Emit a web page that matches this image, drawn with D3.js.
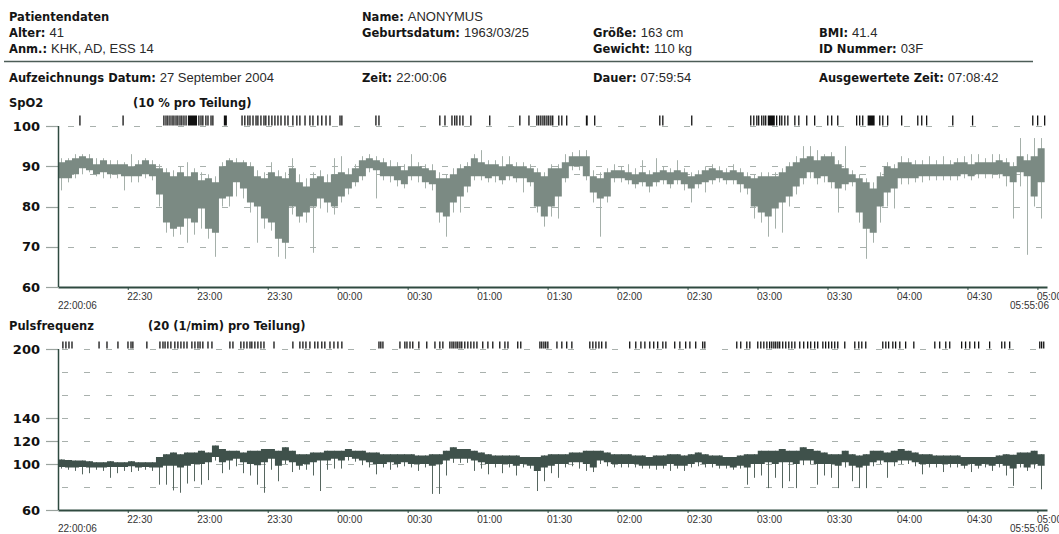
<!DOCTYPE html>
<html>
<head>
<meta charset="utf-8">
<title>Patientendaten - SpO2 und Pulsfrequenz</title>
<style>
  body { margin: 0; background: #fff; }
  svg { display: block; }
  .lbl { font-family: "DejaVu Sans", Verdana, sans-serif; font-weight: bold; font-size: 11.5px; fill: #151515; }
  .val { font-family: "Liberation Sans", Arial, sans-serif; font-weight: normal; font-size: 13px; fill: #2a2a2a; }
  .ylab { font-family: "DejaVu Sans", Verdana, sans-serif; font-weight: bold; font-size: 13px; fill: #111; }
  .tick text { font-family: "Liberation Sans", Arial, sans-serif; font-size: 10px; fill: #333; }
  .edge { font-family: "Liberation Sans", Arial, sans-serif; font-size: 10px; fill: #333; }
</style>
</head>
<body>
<div id="chart"></div>
<script src="https://cdn.jsdelivr.net/npm/d3@7"></script>
<script>
// header fields: [column, row, label, value]
const headerFields = [
  [0, 0, "Patientendaten", ""],
  [0, 1, "Alter:", "41"],
  [0, 2, "Anm.:", "KHK, AD, ESS 14"],
  [1, 0, "Name:", "ANONYMUS"],
  [1, 1, "Geburtsdatum:", "1963/03/25"],
  [2, 1, "Größe:", "163 cm"],
  [2, 2, "Gewicht:", "110 kg"],
  [3, 1, "BMI:", "41.4"],
  [3, 2, "ID Nummer:", "03F"]
];
const recordFields = [
  ["Aufzeichnungs Datum:", "27 September 2004"],
  ["Zeit:", "22:00:06"],
  ["Dauer:", "07:59:54"],
  ["Ausgewertete Zeit:", "07:08:42"]
];

// recording start and time axis (minutes after start)
const startTime = new Date(2004, 8, 27, 22, 0, 6);
const axisMinutes = 424;
const binMinutes = 3;
const endLabel = "05:55:06";

// SpO2 (%) per 3-minute bin: dense band top/bottom and spike extremes
const spo2Hi = [
  91, 91.5, 92, 92.5, 92, 90.5, 91.5, 90.5, 90.5, 90.5,
  90, 90.5, 91.5, 90.5, 89.5, 88.5, 87.5, 88.5, 87.5, 88.5,
  86.5, 87, 86, 90, 91.5, 91, 91, 90, 87.5, 87,
  88.5, 87.5, 87, 89.5, 86, 85, 87, 87.5, 86, 88,
  88.5, 88, 89.5, 91.5, 92, 91.5, 91, 90, 90, 89,
  90, 90, 89.5, 89, 87, 87, 88, 89.5, 90, 92,
  91, 90.5, 90.5, 90, 90.5, 90, 90, 89.5, 88.5, 87.5,
  89.5, 89.5, 91, 92.5, 92.5, 92.5, 87.5, 87, 88.5, 89,
  89, 88.5, 88, 88.5, 88, 88.5, 89, 88.5, 89, 88.5,
  87.5, 88, 89, 89.5, 89, 88.5, 89, 88.5, 87.5, 87,
  87.5, 87.5, 87.5, 88.5, 90, 91, 92, 92.5, 91.5, 92.5,
  92.5, 90.5, 89.5, 88, 87, 86, 84.5, 87.5, 90, 89.5,
  91, 91, 90.5, 90.5, 90.5, 90.5, 90.5, 90.5, 91, 91,
  90.5, 91, 91, 91, 91.5, 91, 90, 92.5, 91.5, 92.5,
  94.5
];
const spo2Lo = [
  87, 87, 88, 89.5, 89, 88, 88.5, 88, 88, 87.5,
  87.5, 87.5, 88, 87.5, 83, 76, 74.5, 75, 77, 76,
  79.5, 74.5, 73.5, 82, 82.5, 86, 84.5, 81, 80, 77,
  76, 72, 71, 80, 77.5, 78.5, 80, 82, 81, 80,
  82.5, 84.5, 86, 87.5, 89.5, 89, 87.5, 87.5, 86.5, 85.5,
  87.5, 87.5, 86, 85.5, 78.5, 77.5, 81, 82.5, 85, 87.5,
  87.5, 87, 87.5, 86.5, 87.5, 87, 87, 86, 80, 77.5,
  80, 82.5, 87, 90, 90, 87.5, 83.5, 82, 82.5, 87,
  87, 86.5, 85.5, 86, 85, 86, 86.5, 85.5, 86.5, 85.5,
  84.5, 85.5, 86, 86.5, 87, 86.5, 86.5, 85.5, 84.5, 80,
  78.5, 77.5, 79.5, 81, 82.5, 85, 87, 88.5, 87, 87.5,
  86, 84.5, 85.5, 86, 78.5, 74.5, 73.5, 80, 83.5, 84.5,
  87, 87, 87, 87.5, 87.5, 87.5, 87.5, 87.5, 87.5, 88,
  87.5, 88, 88, 88, 88, 87.5, 86, 88.5, 87.5, 82.5,
  86
];
const spo2Max = [
  92, 92, 93, 93, 93, 92, 92, 91.5, 91.5, 91,
  93, 91.5, 92, 91.5, 90.5, 89.5, 89, 90, 91, 89.5,
  88.5, 88, 87.5, 91, 92, 92, 91.5, 91, 89, 88.5,
  91, 89, 88.5, 92, 88, 87, 88.5, 89, 88, 92,
  92.5, 89.5, 90.5, 92.5, 93, 92.5, 92, 91.5, 91, 90.5,
  93, 91, 90.5, 90.5, 88.5, 88, 89.5, 90.5, 91, 93,
  94, 91.5, 91.5, 92.5, 92.5, 91, 91, 90.5, 89.5, 88.5,
  90.5, 90.5, 93, 93.5, 94, 94, 89, 88.5, 89.5, 90.5,
  90, 90.5, 89.5, 91.5, 89, 92, 90, 89.5, 91.5, 89.5,
  88.5, 89, 90, 90.5, 90, 89.5, 90.5, 89.5, 88.5, 88,
  88.5, 88.5, 88.5, 89.5, 91, 92.5, 95, 95, 94, 93,
  93.5, 91.5, 95, 89, 88, 87, 86, 88.5, 91, 90.5,
  92.5, 92, 91.5, 91.5, 92.5, 91.5, 92.5, 91.5, 92, 92.5,
  93, 93, 92, 93, 93, 92, 91, 97, 93, 97,
  97
];
const spo2Min = [
  84, 86, 87, 88, 88.5, 87.5, 87, 87, 87, 84,
  86, 86, 87, 86.5, 80, 73.5, 72.5, 73, 71, 73,
  74.5, 72, 67.5, 80, 80, 82.5, 82, 78.5, 71, 74.5,
  74, 67.5, 67, 78, 76, 76, 68.5, 79.5, 78.5, 78,
  81, 83, 85, 86.5, 88.5, 82, 86.5, 86, 85, 84.5,
  86.5, 86, 84.5, 84, 76, 72.5, 78.5, 78.5, 83.5, 86.5,
  86.5, 86, 86, 85.5, 86.5, 86, 83.5, 85, 78.5, 75,
  77.5, 77, 86, 89, 89, 86.5, 81, 72.5, 81, 86,
  86, 85.5, 84.5, 85, 83.5, 85, 85.5, 84.5, 85.5, 84,
  81, 84.5, 83.5, 85.5, 86, 85.5, 85.5, 83.5, 83, 77,
  76, 72.5, 74.5, 73.5, 80, 83, 85.5, 87, 85.5, 86,
  84.5, 78.5, 84, 85, 76, 67, 71, 76, 80, 79.5,
  85.5, 85.5, 86, 86, 86.5, 86.5, 86.5, 86.5, 86.5, 87,
  86.5, 87, 87, 87, 87, 85, 77, 85, 68, 80,
  77
];

// Pulse rate (1/min) per 3-minute bin
const pulseHi = [
  104, 103.5, 103, 103, 102.5, 101.5, 101.5, 102.5, 101.5, 101.5,
  102.5, 101.5, 101.5, 101.5, 106, 108.5, 110, 108.5, 110, 110,
  111.5, 110, 116, 113, 111.5, 111.5, 110, 111.5, 111.5, 113,
  113, 111.5, 114.5, 111.5, 108.5, 108.5, 110, 110, 111.5, 111.5,
  111.5, 113, 111.5, 111.5, 110, 110, 108.5, 108.5, 108.5, 108.5,
  108.5, 107.5, 107.5, 108.5, 108.5, 111.5, 114.5, 113, 113, 111.5,
  110, 108.5, 107.5, 107.5, 107.5, 107.5, 106, 106, 106, 107.5,
  108.5, 108.5, 108.5, 110, 110, 111.5, 111.5, 111.5, 110, 108.5,
  108.5, 108.5, 107.5, 107.5, 106, 107.5, 107.5, 108.5, 108.5, 107.5,
  108.5, 110, 108.5, 107.5, 107.5, 106, 106, 107.5, 108.5, 108.5,
  111.5, 111.5, 111.5, 113, 111.5, 111.5, 114.5, 113, 111.5, 110,
  108.5, 108.5, 111.5, 108.5, 107.5, 108.5, 111.5, 111.5, 110, 111.5,
  113, 111.5, 110, 108.5, 108.5, 107.5, 107.5, 107.5, 107.5, 106,
  106, 106, 106, 106, 107.5, 108.5, 108, 110, 110, 111.5,
  108.5
];
const pulseLo = [
  97.5, 97, 97, 97.5, 97, 97, 97, 97.5, 97.5, 97.5,
  98, 97, 97.5, 97, 97, 98.5, 98.5, 97, 98.5, 100,
  100, 101.5, 106, 101.5, 103, 104.5, 101.5, 100, 99, 101.5,
  104.5, 98.5, 103, 101.5, 98.5, 100, 101.5, 103, 103, 104.5,
  103, 106, 104.5, 103, 101.5, 100, 100, 101.5, 100, 101.5,
  100, 100, 100, 98.5, 100, 103, 104.5, 104.5, 104.5, 103,
  101.5, 100, 100, 100, 100, 98.5, 100, 98.5, 94, 97,
  98.5, 100, 100, 101.5, 101.5, 100, 97, 103, 101.5, 100,
  100, 100, 100, 98.5, 98.5, 98.5, 98.5, 100, 98.5, 98.5,
  100, 101.5, 100, 100, 98.5, 98.5, 97, 98.5, 97, 100,
  100, 101.5, 100, 101.5, 101.5, 100, 103, 103, 100, 100,
  100, 98.5, 101.5, 98.5, 97, 98.5, 101.5, 103, 101.5, 101.5,
  103, 103, 101.5, 100, 100, 100, 100, 100, 100, 98.5,
  100, 98.5, 100, 98.5, 100, 98.5, 96, 100, 97, 100,
  98.5
];
const pulseMin = [
  96, 95, 94, 91, 92, 95, 94, 88, 92, 94,
  93, 94, 95, 94, 82, 82, 77, 75, 83, 85,
  82, 86, 103, 92, 95, 98, 92, 90, 82, 75,
  95, 85, 100, 93, 95, 95, 90, 76.5, 95, 96,
  96, 103, 102, 99, 97, 91, 97, 95, 97, 98,
  97, 94, 97, 74, 74, 90, 101, 101, 101, 94,
  96, 91, 97, 92, 97, 90, 97, 96, 76.5, 85,
  92, 88, 97, 98, 96, 94, 93, 100, 98, 97,
  97, 97, 97, 96, 96, 95, 96, 94, 96, 94,
  97, 98, 97, 97, 96, 96, 95, 96, 82, 88,
  90, 79, 88, 79, 85, 79, 99, 100, 82, 90,
  88, 79, 97, 85, 79, 79, 98, 100, 88, 98,
  100, 100, 98, 91, 97, 97, 93, 97, 97, 96,
  93, 96, 97, 94, 97, 90, 81, 97, 94, 96,
  78
];

// event markers (minutes after start)
const spo2Events = [
  9.4, 27.9, 45.4, 46.3, 47.1, 48.0, 48.9, 49.7, 50.6, 51.4, 52.3, 53.1, 54.0, 54.9,
  60.4, 61.3, 62.1, 63.4, 64.3, 65.6, 66.4,
  78.9, 80.1, 81.4, 82.3, 83.6, 84.9, 85.7, 87.0, 88.3, 89.1, 90.4, 91.7, 93.0, 94.3,
  95.6, 97.3, 98.6, 100.7, 102.4, 103.7, 105.9, 108.0, 109.3, 111.4, 113.1, 114.9, 116.6,
  120.9, 121.7, 136.3, 137.6, 163.7, 165.9, 168.9, 170.1, 171.0, 172.3, 173.6, 177.0,
  185.1, 198.0, 201.9, 205.3, 206.1, 207.0, 207.9, 208.7, 209.6, 210.4, 211.3, 212.1,
  214.7, 216.0, 218.1, 230.1, 258.0, 259.3, 271.7,
  297.0, 298.3, 299.6, 300.4, 301.7, 302.6, 303.4, 308.1, 309.4, 310.3, 311.6, 312.9,
  315.9, 317.6, 321.0, 324.4, 330.0, 331.7, 334.3, 342.4, 343.7, 345.0, 352.3, 353.6,
  355.7, 361.7, 368.6, 370.3, 372.4, 383.6, 392.1, 417.9, 420.0, 423.0
];
const spo2EventBlocks = [[55.7, 59.6], [71.1, 72.4], [226.3, 227.1], [304.3, 307.3], [347.1, 350.1]];
const pulseEvents = [
  2.1, 3.4, 4.7, 6.0, 17.6, 21.0, 25.7, 30.0, 31.3, 32.1, 38.1,
  43.7, 45.0, 45.9, 47.1, 48.4, 50.1, 51.4, 52.7, 54.0, 55.3, 57.4, 58.7, 60.0, 60.9, 62.1,
  64.3, 66.0, 73.7, 75.0, 78.4, 79.7, 81.0, 82.3, 83.1, 84.4, 85.7, 87.0, 88.3, 92.6,
  100.7, 103.7, 105.0, 106.3, 108.0, 110.1, 111.4, 113.1, 114.4, 116.6, 118.3, 120.0, 121.7,
  137.6, 138.4, 139.3, 146.6, 148.7, 149.6, 150.9, 152.1, 154.7, 158.1, 161.6, 163.7, 165.0,
  168.0, 168.9, 169.7, 170.6, 171.4, 172.3, 173.1, 174.4, 175.7, 177.0, 178.3, 179.6,
  182.1, 184.3, 186.4, 189.4, 191.6, 192.9, 197.1, 198.4, 206.6, 207.4, 208.3, 209.1, 210.0,
  213.9, 216.0, 218.1, 220.3, 228.0, 229.3, 230.6, 231.9, 233.1, 234.9,
  245.1, 247.7, 249.9, 251.6, 253.7, 255.4, 257.1, 259.3, 260.6, 264.4, 266.6, 269.1,
  270.9, 273.4, 276.4, 277.3, 291.0, 292.7, 295.3, 296.6,
  300.0, 301.3, 302.6, 303.9, 305.1, 306.0, 306.9, 307.7, 308.6, 309.4, 310.7, 312.0,
  313.3, 314.6, 315.9, 318.0, 319.7, 321.4, 322.7, 324.4, 325.7, 327.9, 329.1, 330.4,
  331.7, 333.0, 334.3, 337.3, 341.6, 343.3, 344.6, 346.3, 353.6, 354.9, 356.1, 357.9,
  359.1, 360.9, 363.4, 366.9, 375.9, 378.0, 380.6, 382.3, 387.4, 389.1, 390.9, 393.0,
  394.7, 399.4, 404.6, 405.9, 408.0, 420.9, 421.7, 422.6
];

const width = 1059, height = 534;
const svg = d3.select("#chart").append("svg")
  .attr("width", width).attr("height", height);

const tm = m => new Date(+startTime + m * 60000);
const x = d3.scaleTime().domain([startTime, tm(axisMinutes)]).range([58, 1047]);

// ----- header -----
const colX = [9, 362, 593, 819];
const rowY = [21, 37, 53];
headerFields.forEach(([c, r, label, value]) => {
  const t = svg.append("text").attr("x", colX[c]).attr("y", rowY[r]);
  t.append("tspan").attr("class", "lbl").text(label);
  if (value) t.append("tspan").attr("class", "val").attr("dx", 4).text(value);
});
svg.append("line")
  .attr("x1", 4).attr("x2", 1033).attr("y1", 61.5).attr("y2", 61.5)
  .attr("stroke", "#4d5d57").attr("stroke-width", 1.5);
recordFields.forEach(([label, value], i) => {
  const t = svg.append("text").attr("x", colX[i]).attr("y", 82);
  t.append("tspan").attr("class", "lbl").text(label);
  t.append("tspan").attr("class", "val").attr("dx", 4).text(value);
});

function drawPanel(p) {
  const y = d3.scaleLinear().domain(p.domain).range([p.bottom, p.top]);
  const g = svg.append("g");

  g.append("text").attr("class", "lbl").attr("x", 9).attr("y", p.titleY).text(p.title);
  g.append("text").attr("class", "lbl").attr("x", p.subX).attr("y", p.titleY).text(p.subtitle);

  // dashed grid
  g.selectAll(".grid").data(p.grid).join("line")
    .attr("x1", p.gridStart).attr("x2", 1047)
    .attr("y1", d => Math.round(y(d)) + 0.5).attr("y2", d => Math.round(y(d)) + 0.5)
    .attr("stroke", "#a9b1ad").attr("stroke-width", 1.2)
    .attr("stroke-dasharray", "6 16");

  // labelled y ticks
  g.selectAll(".yt").data(p.labels).join("line")
    .attr("x1", 46).attr("x2", 58)
    .attr("y1", d => Math.round(y(d)) + 0.5).attr("y2", d => Math.round(y(d)) + 0.5)
    .attr("stroke", "#9aa39e").attr("stroke-width", 1.2);
  g.selectAll(".yl").data(p.labels).join("text")
    .attr("class", "ylab").attr("text-anchor", "end")
    .attr("x", 40).attr("y", d => y(d)).attr("dy", "0.36em")
    .text(d => d);

  // trace: dense band per bin plus lighter spikes
  const bins = p.hi.map((h, i) => ({
    t0: tm(i * binMinutes), t1: tm((i + 1) * binMinutes), tc: tm(i * binMinutes + binMinutes / 2),
    hi: h, lo: p.lo[i], mn: p.min[i], mx: p.max ? p.max[i] : h
  }));
  g.selectAll(".spk").data(bins).join("line")
    .attr("x1", d => Math.round(x(d.tc)) + 0.5).attr("x2", d => Math.round(x(d.tc)) + 0.5)
    .attr("y1", d => y(d.mx)).attr("y2", d => y(d.mn))
    .attr("stroke", p.spike).attr("stroke-width", 1);
  const area = d3.area()
    .x(d => x(d.t))
    .y0(d => y(d.lo)).y1(d => y(d.hi))
    .curve(d3.curveStepAfter);
  const steps = bins.map(b => ({ t: b.t0, hi: b.hi, lo: b.lo }));
  const last = bins[bins.length - 1];
  steps.push({ t: last.t1, hi: last.hi, lo: last.lo });
  g.append("path").attr("d", area(steps)).attr("fill", p.band);

  // events on top
  const base = Math.round(y(p.domain[1])) - 0.5;
  g.selectAll(".ev").data(p.events).join("line")
    .attr("x1", d => x(tm(d))).attr("x2", d => x(tm(d)))
    .attr("y1", base).attr("y2", base - p.evH)
    .attr("stroke", "#111").attr("stroke-width", 1.3);
  g.selectAll(".evb").data(p.blocks).join("rect")
    .attr("x", d => x(tm(d[0]))).attr("width", d => x(tm(d[1])) - x(tm(d[0])))
    .attr("y", base - p.evH).attr("height", p.evH)
    .attr("fill", "#111");

  // axes
  g.append("line").attr("x1", 58.5).attr("x2", 58.5).attr("y1", p.top).attr("y2", p.bottom)
    .attr("stroke", "#2f4a40").attr("stroke-width", 1.5);
  const ax = g.append("g").attr("transform", `translate(0,${p.bottom})`)
    .call(d3.axisBottom(x).ticks(d3.timeMinute.every(30))
      .tickFormat(d3.timeFormat("%H:%M")).tickSize(3).tickSizeOuter(0));
  ax.select(".domain").attr("stroke", "#2f4a40").attr("stroke-width", 2);
  ax.selectAll(".tick line").attr("stroke", "#2f4a40");
  ax.selectAll(".tick text").attr("text-anchor", "start").attr("x", -1).attr("y", 13).attr("dy", 0);
  g.append("text").attr("class", "edge").attr("x", 58).attr("y", p.bottom + 22).text("22:00:06");
  g.append("text").attr("class", "edge").attr("text-anchor", "end")
    .attr("x", 1049).attr("y", p.bottom + 22).text(endLabel);
}

drawPanel({
  title: "SpO2", subtitle: "(10 % pro Teilung)", titleY: 107, subX: 133,
  domain: [60, 100], top: 126, bottom: 287,
  grid: [100, 90, 88, 80, 70], gridStart: 68, labels: [100, 90, 80, 70, 60],
  hi: spo2Hi, lo: spo2Lo, min: spo2Min, max: spo2Max,
  band: "#7b8a83", spike: "#a5b0aa",
  events: spo2Events, blocks: spo2EventBlocks, evH: 10
});
drawPanel({
  title: "Pulsfrequenz", subtitle: "(20 (1/mim) pro Teilung)", titleY: 330, subX: 148,
  domain: [60, 200], top: 349, bottom: 510,
  grid: [200, 180, 160, 140, 120, 100, 80], gridStart: 62, labels: [200, 140, 120, 100, 60],
  hi: pulseHi, lo: pulseLo, min: pulseMin, max: null,
  band: "#3f514b", spike: "#56665f",
  events: pulseEvents, blocks: [], evH: 7
});
</script>
</body>
</html>
